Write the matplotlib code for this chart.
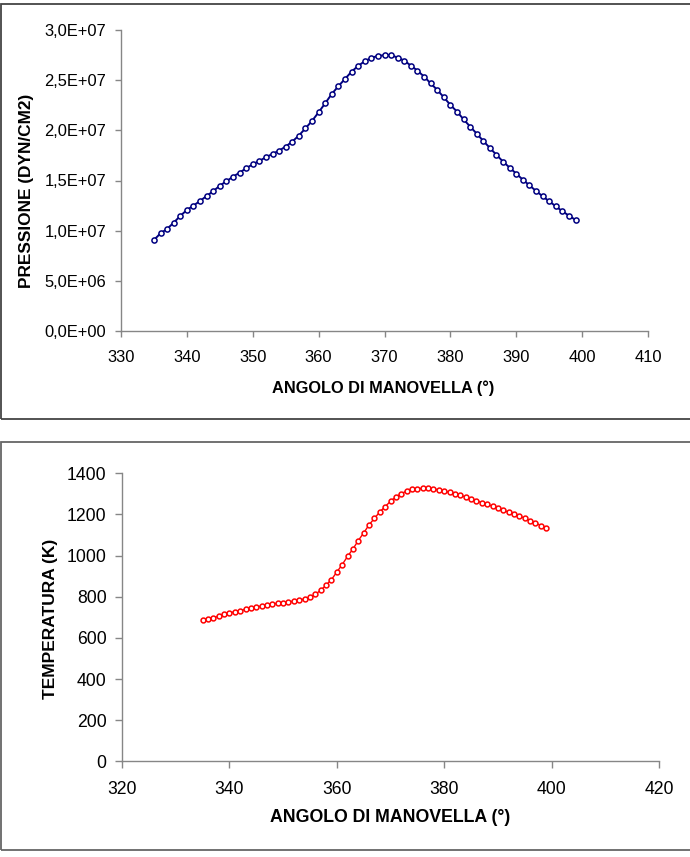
import numpy as np
import matplotlib
matplotlib.use("Agg")
import matplotlib.pyplot as plt
import matplotlib.patches as patches
from matplotlib.ticker import FuncFormatter, MultipleLocator

plt.rcParams["font.family"] = ["Liberation Sans", "DejaVu Sans"]

# crank angle (deg), one sample per degree
angle = list(range(335, 400))

# pressure, in units of 1e6 dyn/cm2
pressure_e6 = [
    9.07, 9.74, 10.17, 10.8, 11.47, 12.06, 12.5, 12.96, 13.46, 13.93,
    14.49, 14.92, 15.38, 15.78, 16.22, 16.62, 16.95, 17.32, 17.65, 17.98,
    18.38, 18.88, 19.48, 20.2, 20.94, 21.8, 22.7, 23.63, 24.4, 25.12,
    25.85, 26.42, 26.89, 27.22, 27.42, 27.49, 27.49, 27.25, 26.95, 26.45,
    25.95, 25.36, 24.69, 24.03, 23.3, 22.53, 21.87, 21.1, 20.37, 19.67,
    18.94, 18.24, 17.55, 16.88, 16.28, 15.68, 15.08, 14.52, 13.96, 13.43,
    12.93, 12.43, 11.93, 11.5, 11.07,
]

# temperature (K)
temperature = [
    688, 692, 698, 705, 715, 721, 727, 732, 739, 745,
    750, 755, 760, 765, 768, 770, 774, 779, 784, 789,
    797, 812, 831, 856, 883, 920, 956, 996, 1032, 1073,
    1110, 1149, 1181, 1212, 1238, 1264, 1285, 1301, 1314, 1322,
    1325, 1327, 1327, 1324, 1319, 1313, 1308, 1301, 1293, 1285,
    1275, 1267, 1257, 1249, 1240, 1230, 1220, 1211, 1201, 1191,
    1183, 1170, 1160, 1146, 1136,
]

W, H = 690, 857
AX_GRAY = "#868686"

fig = plt.figure(figsize=(W / 100, H / 100), dpi=100)


def px_box(x0, y0, x1, y1):
    # pixel box (top-left origin) -> figure fraction rect
    return [x0 / W, 1 - y1 / H, (x1 - x0) / W, (y1 - y0) / H]


def style_axes(ax, fs, tick_len):
    for s in ("top", "right"):
        ax.spines[s].set_visible(False)
    for s in ("left", "bottom"):
        ax.spines[s].set_color(AX_GRAY)
        ax.spines[s].set_linewidth(1.0)
    ax.tick_params(axis="both", colors=AX_GRAY, labelcolor="black",
                   labelsize=fs, length=tick_len, width=1.0, direction="out")
    ax.tick_params(axis="x", pad=9)
    ax.tick_params(axis="y", pad=6)
    ax.set_facecolor("none")


# panel frames
fig.patches.append(patches.Rectangle((1 / W, 1 - 419 / H), 700 / W, 415 / H,
                                     transform=fig.transFigure, fill=False,
                                     edgecolor="#444444", linewidth=1.3))
fig.patches.append(patches.Rectangle((1 / W, 1 - 850 / H), 700 / W, 408 / H,
                                     transform=fig.transFigure, fill=False,
                                     edgecolor="#666666", linewidth=1.3))

# --- pressure ---
ax1 = fig.add_axes(px_box(121, 30, 648, 331))
p = np.array(pressure_e6) * 1e6
ax1.plot(angle, p, color="#000080", linewidth=1.4, marker="o", markersize=3.7,
         markerfacecolor="white", markeredgecolor="#000080", markeredgewidth=1.1)
ax1.set_xlim(330, 410)
ax1.set_ylim(0, 3.0e7)
ax1.xaxis.set_major_locator(MultipleLocator(10))
ax1.yaxis.set_major_locator(MultipleLocator(5e6))
ax1.yaxis.set_major_formatter(FuncFormatter(lambda v, _: f"{v:.1E}".replace(".", ",")))
style_axes(ax1, 11.9, 4.5)

fig.text(383.5 / W, 1 - 388 / H, "ANGOLO DI MANOVELLA (°)", ha="center", va="center",
         fontsize=11.8, fontweight="bold")
fig.text(27 / W, 1 - 191 / H, "PRESSIONE (DYN/CM2)", ha="center", va="center",
         rotation=90, fontsize=12.4, fontweight="bold")

# --- temperature ---
ax2 = fig.add_axes(px_box(122, 473.3, 659, 761.3))
ax2.plot(angle, temperature, color="#FF0000", linewidth=1.0, marker="o", markersize=3.5,
         markerfacecolor="white", markeredgecolor="#FF0000", markeredgewidth=1.1)
ax2.set_xlim(320, 420)
ax2.set_ylim(0, 1400)
ax2.xaxis.set_major_locator(MultipleLocator(20))
ax2.yaxis.set_major_locator(MultipleLocator(200))
style_axes(ax2, 12.7, 5)

fig.text(390.5 / W, 1 - 817 / H, "ANGOLO DI MANOVELLA (°)", ha="center", va="center",
         fontsize=12.8, fontweight="bold")
fig.text(51 / W, 1 - 619 / H, "TEMPERATURA (K)", ha="center", va="center",
         rotation=90, fontsize=12.5, fontweight="bold")

fig.savefig("out.png", dpi=100)
